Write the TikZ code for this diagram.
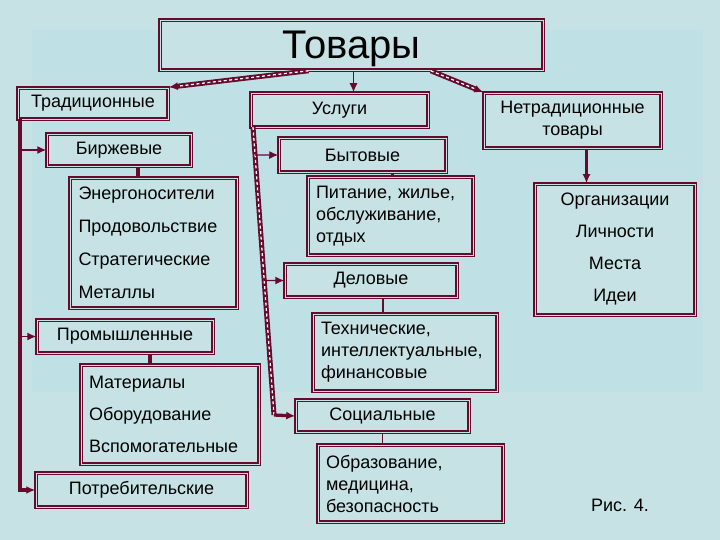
\documentclass[tikz,border=0pt]{standalone}
\usepackage{fontspec}
\setmainfont{Liberation Sans}
\usetikzlibrary{arrows.meta,calc}

\definecolor{maroon}{RGB}{104,10,44}
\definecolor{bgc}{RGB}{198,226,228}
\definecolor{panelc}{RGB}{191,224,228}

\tikzset{
  box/.style={draw=maroon, double=bgc, double distance=0.9pt, line width=1.5pt,
    fill=bgc, inner sep=0pt, font=\fontsize{18}{22}\selectfont},
  tip/.style={-{Latex[length=9pt,width=8pt]}},
  thin line/.style={draw=maroon, line width=1.3pt},
  thick line/.style={draw=maroon, line width=3.3pt},
  hatch/.style={draw=maroon, line width=5pt,
    postaction={draw=white, line width=1.3pt, dash pattern=on 3pt off 2.5pt, -, shorten >=#1}},
  hatch/.default=0pt,
}

\begin{document}
\begin{tikzpicture}[x=1pt, y=-1pt]
  \useasboundingbox[fill=bgc] (0,0) rectangle (720,540);
  \fill[panelc] (32,30) rectangle (703,392);

  % Nodes
  \node[box, minimum width=383, minimum height=50, text depth=0pt,
        font=\fontsize{40}{44}\selectfont] (tovary) at (351.5,45) {Товары};

  \node[box, minimum width=150, minimum height=31] (trad) at (93,103.5) {Традиционные};
  \node[box, minimum width=144, minimum height=32] (birzh) at (119,150) {Биржевые};
  \node[box, minimum width=167, minimum height=130, text width=150, align=left,
        font=\fontsize{18}{33}\selectfont] (birzhList) at (153.5,243)
        {Энергоносители\\Продовольствие\\Стратегические\\Металлы};
  \node[box, minimum width=176, minimum height=33] (prom) at (125,336.5) {Промышленные};
  \node[box, minimum width=178, minimum height=99, text width=162, align=left,
        font=\fontsize{18}{32}\selectfont] (promList) at (170,414.5)
        {Материалы\\Оборудование\\Вспомогательные};
  \node[box, minimum width=211, minimum height=34] (potreb) at (141.5,490) {Потребительские};

  \node[box, minimum width=177, minimum height=34] (uslugi) at (339.5,110) {Услуги};
  \node[box, minimum width=167, minimum height=34] (bytovye) at (362.5,155) {Бытовые};
  \node[box, minimum width=165, minimum height=78, text width=149, align=left] (bytList) at (390.5,216)
        {Питание, жилье,\\обслуживание,\\отдых};
  \node[box, minimum width=172, minimum height=33] (delovye) at (371,280.5) {Деловые};
  \node[box, minimum width=184, minimum height=77, text width=168, align=left] (delList) at (405,352.5)
        {Технические,\\интеллектуальные,\\финансовые};
  \node[box, minimum width=173, minimum height=32] (social) at (382.5,416) {Социальные};
  \node[box, minimum width=185, minimum height=77, text width=169, align=left] (socList) at (410.5,483.5)
        {Образование,\\медицина,\\безопасность};

  \node[box, minimum width=177, minimum height=55, align=center] (netrad) at (572.5,120.5)
        {Нетрадиционные\\товары};
  \node[box, minimum width=160, minimum height=131, align=center,
        font=\fontsize{18}{32}\selectfont] (netradList) at (615,249.5)
        {Организации\\Личности\\Места\\Идеи};

  \node[font=\fontsize{18}{22}\selectfont] (ris) at (620,505) {Рис. 4.};

  % Trunks
  \coordinate (tradLine) at (20,119);
  \coordinate (uslTop) at (253,127);
  \coordinate (uslBot) at (274,415);
  \coordinate (uslB) at ($(uslTop)!0.097!(uslBot)$);
  \coordinate (uslD) at ($(uslTop)!0.533!(uslBot)$);

  % Edges
  \draw[hatch=9pt, tip] (tovary.211) -- (trad.north east);
  \draw[hatch=9pt, tip] (tovary.-18) -- (netrad.north west);
  \draw[thin line, tip] ([xshift=2]tovary.south) -- ([xshift=2]tovary.south |- uslugi.north);

  \draw[thick line, tip] (tradLine) |- (potreb.west);
  \draw[thin line, tip] (birzh.west -| tradLine) -- (birzh.west);
  \draw[thin line, tip] (prom.west -| tradLine) -- (prom.west);
  \draw[thick line] ([xshift=19]birzh.south) -- ([xshift=19]birzh.south |- birzhList.north);
  \draw[thick line] ([xshift=25]prom.south) -- ([xshift=25]prom.south |- promList.north);

  \draw[hatch] (uslTop) -- (uslBot);
  \draw[thick line, tip] (uslBot) -- (social.west);
  \draw[thin line, tip] (uslB) -- (bytovye.west);
  \draw[thin line, tip] (uslD) -- (delovye.west);
  \draw[thick line] ([xshift=30]bytovye.south) -- ([xshift=30]bytovye.south |- bytList.north);
  \draw[thin line] ([xshift=12]delovye.south) -- ([xshift=12]delovye.south |- delList.north);
  \draw[thin line] (social.south) -- (social.south |- socList.north);

  \draw[thick line, tip] ([xshift=14]netrad.south) -- ([xshift=14]netrad.south |- netradList.north);
\end{tikzpicture}
\end{document}
